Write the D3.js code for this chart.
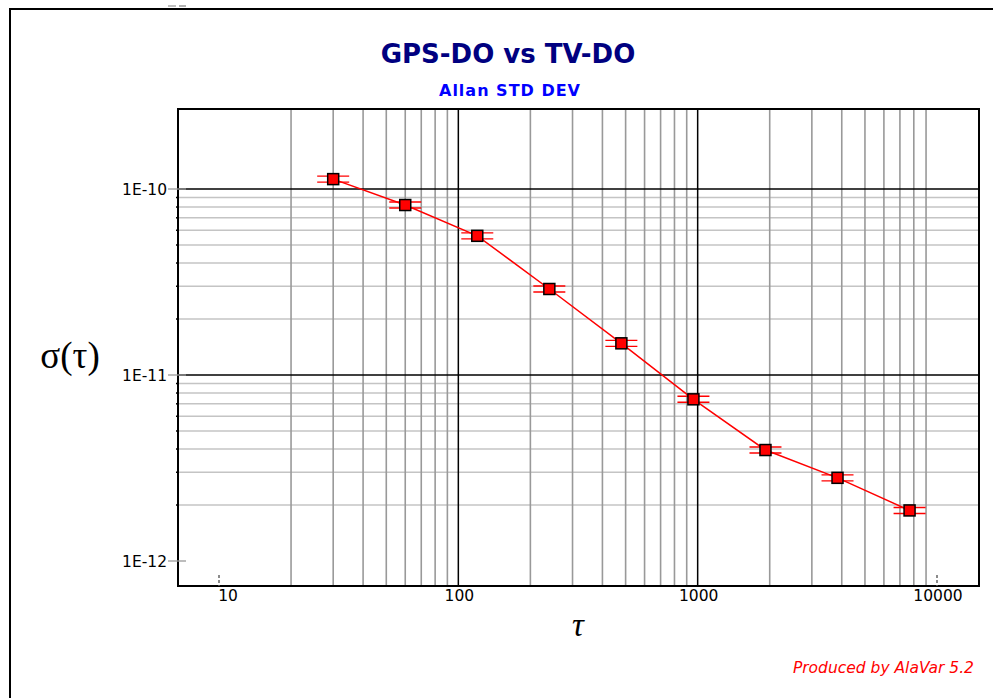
<!DOCTYPE html>
<html>
<head>
<meta charset="utf-8">
<script src="https://cdn.jsdelivr.net/npm/d3@7"></script>
<style>
  body { margin: 0; background: #fff; }
  svg { display: block; }
</style>
</head>
<body>
<div id="chart"></div>
<script>
// data
var tau = [30, 60, 120, 240, 480, 960, 1920, 3840, 7680];
var adev = [1.13e-10, 8.2e-11, 5.6e-11, 2.9e-11, 1.48e-11, 7.4e-12, 3.95e-12, 2.8e-12, 1.87e-12];
var xTickValues = [10, 100, 1000, 10000];
var xTickLabels = ["10", "100", "1000", "10000"];
var yTickValues = [1e-10, 1e-11, 1e-12];
var yTickLabels = ["1E-10", "1E-11", "1E-12"];

var width = 993,
    height = 698;

var plot = {left: 178, top: 109, right: 979, bottom: 586};

var svg = d3.select("#chart")
    .append("svg")
    .attr("width", width)
    .attr("height", height);

var x = d3.scaleLog()
    .domain([10, 10000])
    .range([219, 937]);

var y = d3.scaleLog()
    .domain([1e-10, 1e-12])
    .range([189, 561]);

// outer frame
svg.append("rect")
    .attr("x", 10).attr("y", 9)
    .attr("width", 1000).attr("height", 700)
    .style("fill", "none")
    .style("stroke", "#000")
    .style("stroke-width", 2);

// small marks at the very top
svg.append("line").attr("x1", 168).attr("x2", 176).attr("y1", 6).attr("y2", 6)
    .style("stroke", "#aaa").style("stroke-width", 1.5);
svg.append("line").attr("x1", 179).attr("x2", 186).attr("y1", 6).attr("y2", 6)
    .style("stroke", "#999").style("stroke-width", 1.5);

// titles
svg.append("text")
    .attr("x", 508).attr("y", 63)
    .attr("text-anchor", "middle")
    .style("font-family", "DejaVu Sans")
    .style("font-weight", "bold")
    .style("font-size", "26px")
    .style("fill", "#000080")
    .text("GPS-DO vs TV-DO");

svg.append("text")
    .attr("x", 510).attr("y", 96)
    .attr("text-anchor", "middle")
    .style("font-family", "DejaVu Sans")
    .style("font-weight", "bold")
    .style("font-size", "16px")
    .style("letter-spacing", "1px")
    .style("fill", "#0000ff")
    .text("Allan STD DEV");

// grid lines
var xMinor = [], yMinor = [];
[10, 100, 1000].forEach(function(d) {
    for (var k = 2; k <= 9; k++) xMinor.push(k * d);
});
[1e-12, 1e-11].forEach(function(d) {
    for (var k = 2; k <= 9; k++) yMinor.push(k * d);
});

var grid = svg.append("g").attr("class", "grid");

grid.selectAll(".hminor")
    .data(yMinor)
    .enter().append("line")
    .attr("x1", plot.left).attr("x2", plot.right)
    .attr("y1", function(d) { return y(d); })
    .attr("y2", function(d) { return y(d); })
    .style("stroke", "#c4c4c4")
    .style("stroke-width", 1.6);

grid.selectAll(".vminor")
    .data(xMinor)
    .enter().append("line")
    .attr("y1", plot.top).attr("y2", plot.bottom)
    .attr("x1", function(d) { return x(d); })
    .attr("x2", function(d) { return x(d); })
    .style("stroke", "#999")
    .style("stroke-width", 1.6);

grid.selectAll(".hmajor")
    .data([1e-10, 1e-11])
    .enter().append("line")
    .attr("x1", plot.left).attr("x2", plot.right)
    .attr("y1", function(d) { return y(d); })
    .attr("y2", function(d) { return y(d); })
    .style("stroke", "#000")
    .style("stroke-width", 1.5);

grid.selectAll(".vmajor")
    .data([100, 1000])
    .enter().append("line")
    .attr("y1", plot.top).attr("y2", plot.bottom)
    .attr("x1", function(d) { return x(d); })
    .attr("x2", function(d) { return x(d); })
    .style("stroke", "#000")
    .style("stroke-width", 1.5);

// minor dots on the left axis
svg.selectAll(".ydot")
    .data(yMinor)
    .enter().append("rect")
    .attr("x", plot.left - 2).attr("width", 1.5).attr("height", 1.5)
    .attr("y", function(d) { return y(d) - 0.75; })
    .style("fill", "#000");

// plot box
svg.append("rect")
    .attr("x", plot.left).attr("y", plot.top)
    .attr("width", plot.right - plot.left)
    .attr("height", plot.bottom - plot.top)
    .style("fill", "none")
    .style("stroke", "#000")
    .style("stroke-width", 2);

// y ticks + labels
svg.selectAll(".ytick")
    .data(yTickValues)
    .enter().append("line")
    .attr("x1", 168).attr("x2", 186)
    .attr("y1", function(d) { return y(d); })
    .attr("y2", function(d) { return y(d); })
    .style("stroke", "#999")
    .style("stroke-width", 1.3);

svg.selectAll(".ylabel")
    .data(yTickValues)
    .enter().append("text")
    .attr("x", 167)
    .attr("y", function(d) { return y(d) + 6; })
    .attr("text-anchor", "end")
    .style("font-family", "DejaVu Sans")
    .style("font-size", "15.5px")
    .style("fill", "#000")
    .text(function(d, i) { return yTickLabels[i]; });

// x ticks + labels
svg.selectAll(".xtick")
    .data([10, 10000])
    .enter().append("line")
    .attr("y1", 575).attr("y2", plot.bottom)
    .attr("x1", function(d) { return x(d); })
    .attr("x2", function(d) { return x(d); })
    .style("stroke", "#666")
    .style("stroke-width", 1.5)
    .style("stroke-dasharray", "3,2");

svg.selectAll(".xlabel")
    .data(xTickValues)
    .enter().append("text")
    .attr("x", function(d, i) { return x(d) + (i === 0 ? 9 : 1); })
    .attr("y", 601)
    .attr("text-anchor", "middle")
    .style("font-family", "DejaVu Sans")
    .style("font-size", "15.5px")
    .style("fill", "#000")
    .text(function(d, i) { return xTickLabels[i]; });

// axis titles
svg.append("text")
    .attr("x", 70).attr("y", 368)
    .attr("text-anchor", "middle")
    .style("font-family", "Liberation Serif")
    .style("font-size", "37px")
    .text("σ(τ)");

svg.append("text")
    .attr("x", 578).attr("y", 636)
    .attr("text-anchor", "middle")
    .style("font-family", "Liberation Serif")
    .style("font-style", "italic")
    .style("font-size", "33px")
    .text("τ");

// data line
var line = d3.line()
    .x(function(d) { return x(d[0]); })
    .y(function(d) { return y(d[1]); });

var pts = d3.zip(tau, adev);

svg.append("path")
    .datum(pts)
    .attr("d", line)
    .style("fill", "none")
    .style("stroke", "#ff0000")
    .style("stroke-width", 1.5);

var node = svg.selectAll(".node")
    .data(pts)
    .enter().append("g")
    .attr("class", "node")
    .attr("transform", function(d) { return "translate(" + x(d[0]) + "," + y(d[1]) + ")"; });

[-3, 3].forEach(function(off) {
    node.append("line")
        .attr("x1", -16).attr("x2", 16)
        .attr("y1", off).attr("y2", off)
        .style("stroke", "#ff0000")
        .style("stroke-width", 1.4);
});

node.append("rect")
    .attr("x", -5.5).attr("y", -5.5)
    .attr("width", 11).attr("height", 11)
    .style("fill", "#ff0000")
    .style("stroke", "#000")
    .style("stroke-width", 1.5);

// credit
svg.append("text")
    .attr("x", 974).attr("y", 673)
    .attr("text-anchor", "end")
    .style("font-family", "DejaVu Sans")
    .style("font-style", "italic")
    .style("font-size", "15.5px")
    .style("fill", "#ff0000")
    .text("Produced by AlaVar 5.2");
</script>
</body>
</html>
